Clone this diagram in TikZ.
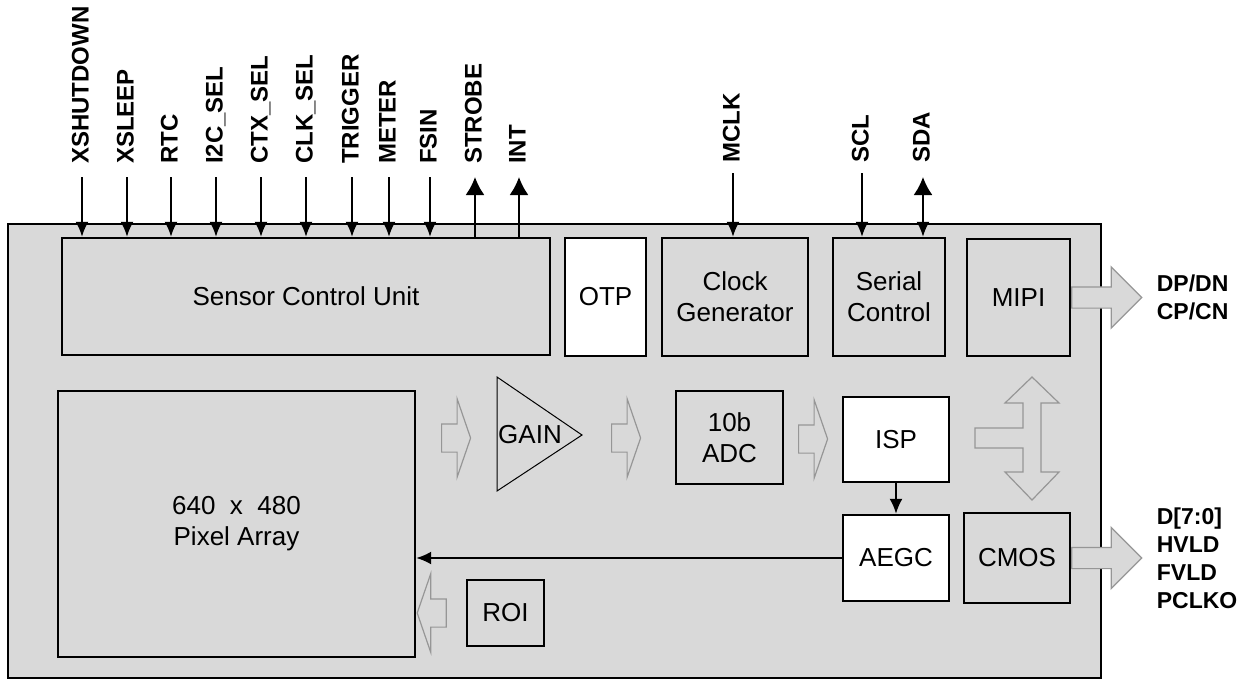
\documentclass[tikz,border=0pt]{standalone}
\usepackage{fontspec}
\setmainfont{Liberation Sans}
\usetikzlibrary{arrows.meta,shapes.arrows,calc}

\definecolor{chipfill}{RGB}{217,217,217}
\definecolor{flowline}{RGB}{150,150,150}

\begin{document}
\begin{tikzpicture}[
    x=1pt, y=-1pt,
    box/.style={
        draw, line width=2.4pt, fill=chipfill, inner sep=0pt, align=center,
        font=\fontsize{26}{31}\selectfont
    },
    wbox/.style={box, fill=white},
    boxtext/.style={inner sep=0pt, font=\fontsize{26}{31}\selectfont},
    pinlabel/.style={
        rotate=90, anchor=west, inner sep=0pt, text height=17pt, text depth=0pt,
        font=\fontsize{24}{24}\bfseries\selectfont
    },
    outlabel/.style={anchor=west, inner sep=0pt, align=left, font=\fontsize{23}{28}\bfseries\selectfont},
    sig/.style={line width=2pt, -{Latex[length=15pt,width=13pt]}},
    sigout/.style={line width=2pt, -{Latex[length=18pt,width=19pt]}},
    gainline/.style={line width=1pt},
    hollow/.style={
        single arrow, draw=flowline, fill=chipfill, line width=1.2pt, anchor=tail,
        inner xsep=0pt, inner ysep=13.5pt, single arrow head extend=25pt,
        single arrow tip angle=142, minimum height=29pt
    },
    bus/.style={
        single arrow, draw=flowline, fill=chipfill, line width=1.2pt, anchor=tail,
        inner xsep=0pt, inner ysep=10pt, single arrow head extend=20pt,
        minimum height=70pt
    },
    bigflow/.style={draw=flowline, fill=chipfill, line width=1.2pt}
]
\useasboundingbox (0,0) rectangle (1249,681);

% Chip outline
\node[box, minimum width=1093pt, minimum height=454pt] (chip) at (554.5,451) {};

% Top row blocks
\node[box, minimum width=488pt, minimum height=117pt] (scu) at (306,296.5) {Sensor Control Unit};
\node[wbox, minimum width=81pt, minimum height=118pt] (otp) at (605.5,297) {OTP};
\node[box, minimum width=146pt, minimum height=118pt] (clk) at (735,297) {Clock\\Generator};
\node[box, minimum width=112pt, minimum height=118pt] (ser) at (889,297) {Serial\\Control};
\node[box, minimum width=103pt, minimum height=117pt] (mipi) at (1018.5,297.5) {MIPI};

% Data path blocks
\node[box, minimum width=357pt, minimum height=266pt] (pix) at (236.5,524) {640~~x~~480\\Pixel Array};
\node[box, minimum width=107pt, minimum height=93pt] (adc) at (729.5,437.5) {10b\\ADC};
\node[wbox, minimum width=106pt, minimum height=85pt] (isp) at (896,439.5) {ISP};
\node[wbox, minimum width=106pt, minimum height=86pt] (aegc) at (896,558) {AEGC};
\node[box, minimum width=106pt, minimum height=90pt] (cmos) at (1017,558) {CMOS};
\node[box, minimum width=77pt, minimum height=66pt] (roi) at (505.5,613) {ROI};

% Gain stage
\node[boxtext] (gain) at (530,435) {GAIN};
\draw[gainline] ([shift={(-33,-58)}]gain.center) -- ([shift={(52,0)}]gain.center)
    -- ([shift={(-33,56)}]gain.center) -- cycle;

% Hollow flow arrows
\node[hollow] (flow1) at (441,438) {};
\node[hollow] (flow2) at (611,438) {};
\node[hollow] (flow3) at (798,439) {};
\node[hollow, shape border rotate=180] (flowroi) at ([xshift=-19pt]roi.west) {};

% MIPI / CMOS switch
\draw[bigflow] (1032,377) -- (1059,403) -- (1041,403) -- (1041,472) -- (1059,472)
    -- (1032,500) -- (1005,472) -- (1023,472) -- (1023,448) -- (975,448)
    -- (975,428) -- (1023,428) -- (1023,403) -- (1005,403) -- cycle;

% Output buses
\node[bus] (mipibus) at (mipi.east) {};
\node[bus] (cmosbus) at (cmos.east) {};
\node[outlabel] (mipisig) at ([xshift=14pt]mipibus.tip) {DP/DN\\CP/CN};
\node[outlabel] (cmossig) at ([xshift=14pt]cmosbus.tip) {D[7:0]\\HVLD\\FVLD\\PCLKO};

% Internal arrows
\draw[sig] (isp.south) -- (aegc.north);
\draw[sig] (aegc.west) -- (aegc.west -| pix.east);

% Control inputs
\foreach \x/\txt [count=\i] in {82/XSHUTDOWN,127/XSLEEP,171/RTC,216/I2C\_SEL,261/CTX\_SEL,
        306/CLK\_SEL,352/TRIGGER,389/METER,430/FSIN}{
    \node[pinlabel] (in\i) at (\x-2,164) {\txt};
    \coordinate (inx\i) at (\x,177);
    \draw[sig] (inx\i) -- (inx\i |- scu.north);
}

% Control outputs
\foreach \x/\txt [count=\i] in {475/STROBE,519/INT}{
    \node[pinlabel] (out\i) at (\x-2,164) {\txt};
    \coordinate (outx\i) at (\x,177);
    \draw[sigout] (outx\i |- scu.north) -- (outx\i);
}

% Clock and serial bus
\node[pinlabel] (mclk) at (731,163) {MCLK};
\node[pinlabel] (scl) at (860,163) {SCL};
\node[pinlabel] (sda) at (921,163) {SDA};
\coordinate (mclkx) at (733,173);
\coordinate (sclx) at (862,173);
\coordinate (sdax) at (923,177);
\draw[sig] (mclkx) -- (mclkx |- clk.north);
\draw[sig] (sclx) -- (sclx |- ser.north);
\draw[line width=2pt, {Latex[length=18pt,width=19pt]}-{Latex[length=15pt,width=13pt]}] (sdax) -- (sdax |- ser.north);

\end{tikzpicture}
\end{document}
